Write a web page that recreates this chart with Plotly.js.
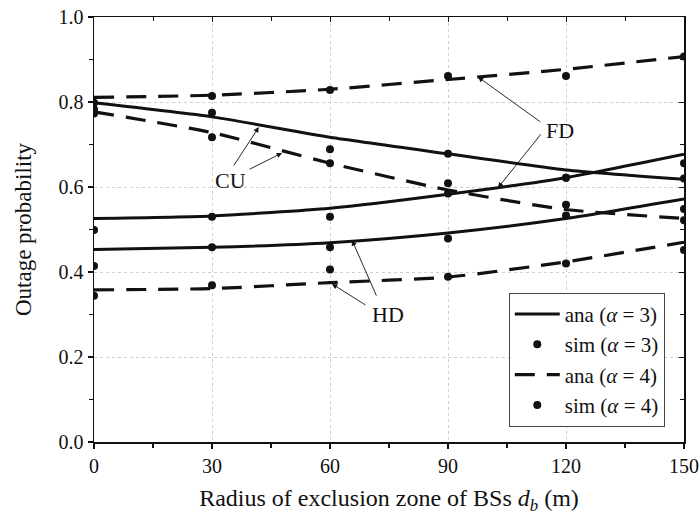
<!DOCTYPE html>
<html>
<head>
<meta charset="utf-8">
<script src="https://cdn.plot.ly/plotly-3.0.1.min.js"></script>
<style>html,body{margin:0;padding:0;background:#fff;}#chart{width:700px;height:517px;}</style>
</head>
<body>
<div id="chart"></div>
<script>
// Radius of exclusion zone (m)
const radius = [0, 30, 60, 90, 120, 150];
const xTicks = [0, 30, 60, 90, 120, 150];

// Analytic curves, alpha = 3
const cuAna3 = [0.798, 0.765, 0.717, 0.678, 0.640, 0.618];
const fdAna3 = [0.526, 0.532, 0.550, 0.583, 0.622, 0.677];
const hdAna3 = [0.453, 0.458, 0.469, 0.492, 0.526, 0.572];
// Analytic curves, alpha = 4
const fdAna4 = [0.811, 0.816, 0.830, 0.853, 0.877, 0.907];
const cuAna4 = [0.777, 0.728, 0.656, 0.593, 0.547, 0.526];
const hdAna4 = [0.358, 0.361, 0.375, 0.388, 0.424, 0.470];

// Simulation points, alpha = 3
const cuSim3 = [0.783, 0.775, 0.689, 0.678, 0.622, 0.620];
const fdSim3 = [0.499, 0.530, 0.530, 0.585, 0.622, 0.656];
const hdSim3 = [0.414, 0.458, 0.458, 0.479, 0.533, 0.548];
// Simulation points, alpha = 4
const fdSim4 = [0.798, 0.814, 0.828, 0.861, 0.861, 0.907];
const cuSim4 = [0.773, 0.717, 0.656, 0.609, 0.558, 0.522];
const hdSim4 = [0.344, 0.369, 0.406, 0.389, 0.420, 0.452];

function joinSeries(list, withGaps) {
  const x = [], y = [];
  list.forEach((s, i) => {
    if (i > 0 && withGaps) { x.push(null); y.push(null); }
    radius.forEach((r, j) => { x.push(r); y.push(s[j]); });
  });
  return {x, y};
}

const FONT = '"Liberation Serif", "Times New Roman", serif';
const a3 = joinSeries([cuAna3, fdAna3, hdAna3], true);
const s3 = joinSeries([cuSim3, fdSim3, hdSim3], false);
const a4 = joinSeries([fdAna4, cuAna4, hdAna4], true);
const s4 = joinSeries([fdSim4, cuSim4, hdSim4], false);

const traces = [
  {x: a3.x, y: a3.y, mode: 'lines', name: 'ana (<i>α</i> = 3)',
   line: {color: '#111', width: 3, shape: 'spline', smoothing: 0.6}, connectgaps: false},
  {x: s3.x, y: s3.y, mode: 'markers', name: 'sim (<i>α</i> = 3)',
   marker: {color: '#111', size: 8, symbol: 'circle'}},
  {x: a4.x, y: a4.y, mode: 'lines', name: 'ana (<i>α</i> = 4)',
   line: {color: '#111', width: 3.2, dash: '20px,12px', shape: 'spline', smoothing: 0.6}, connectgaps: false},
  {x: s4.x, y: s4.y, mode: 'markers', name: 'sim (<i>α</i> = 4)',
   marker: {color: '#111', size: 8, symbol: 'circle'}},
  // invisible trace that carries the top/right inward-tick axes
  {x: [0], y: [0], xaxis: 'x2', yaxis: 'y2', mode: 'markers', marker: {opacity: 0}, showlegend: false, hoverinfo: 'skip'}
];

function arrow(x, y, ax, ay) {
  return {x, y, ax, ay, xref: 'x', yref: 'y', axref: 'pixel', ayref: 'pixel', text: '',
    showarrow: true, arrowhead: 2, arrowsize: 1.2, arrowwidth: 0.9, arrowcolor: '#111'};
}
function label(x, y, t) {
  return {x, y, xref: 'x', yref: 'y', text: t, showarrow: false,
    font: {family: FONT, size: 22, color: '#111'}};
}

const layout = {
  width: 700, height: 517,
  margin: {l: 94, r: 16, t: 17, b: 75},
  paper_bgcolor: '#fff', plot_bgcolor: '#fff',
  font: {family: FONT, size: 20, color: '#111'},
  showlegend: true,
  legend: {x: 0.703, y: 0.351, xanchor: 'left', yanchor: 'top', itemwidth: 45,
    bgcolor: '#fff', bordercolor: '#444', borderwidth: 1,
    font: {family: FONT, size: 21, color: '#111'}, tracegroupgap: 0},
  xaxis: {range: [0, 150], tickvals: xTicks, ticks: 'outside', ticklen: 5, tickwidth: 1.2,
    tickcolor: '#111', showline: true, linecolor: '#111', linewidth: 1.5,
    showgrid: true, gridcolor: '#cfcfcf', griddash: 'dot', gridwidth: 1, zeroline: false,
    minor: {dtick: 15, ticks: 'outside', ticklen: 4, tickcolor: '#111', showgrid: false},
    title: {text: 'Radius of exclusion zone of BSs <i>d</i><sub><i>b</i></sub> (m)', font: {family: FONT, size: 24}, standoff: 13},
    tickfont: {family: FONT, size: 20}},
  yaxis: {range: [0, 1.0], dtick: 0.2, tickformat: '.1f', ticks: 'outside', ticklen: 5, tickwidth: 1.2,
    tickcolor: '#111', showline: true, linecolor: '#111', linewidth: 1.5,
    showgrid: true, gridcolor: '#cfcfcf', griddash: 'dot', gridwidth: 1, zeroline: false,
    minor: {dtick: 0.1, ticks: 'outside', ticklen: 4, tickcolor: '#111', showgrid: false},
    title: {text: 'Outage probability', font: {family: FONT, size: 23}, standoff: 20},
    tickfont: {family: FONT, size: 20}},
  xaxis2: {overlaying: 'x', side: 'top', range: [0, 150], tickvals: xTicks, ticks: 'inside', ticklen: 5,
    tickcolor: '#111', showticklabels: false, showline: true, linecolor: '#111', linewidth: 1.5,
    showgrid: false, zeroline: false,
    minor: {dtick: 15, ticks: 'inside', ticklen: 4, tickcolor: '#111', showgrid: false}},
  yaxis2: {overlaying: 'y', side: 'right', range: [0, 1.0], dtick: 0.2, ticks: 'inside', ticklen: 5,
    tickcolor: '#111', showticklabels: false, showline: true, linecolor: '#111', linewidth: 1.5,
    showgrid: false, zeroline: false,
    minor: {dtick: 0.1, ticks: 'inside', ticklen: 4, tickcolor: '#111', showgrid: false}},
  annotations: [
    label(118.5, 0.734, 'FD'),
    arrow(97.6, 0.859, 64, 46),
    arrow(102.7, 0.598, 44, -55),
    label(34.8, 0.616, 'CU'),
    arrow(41.9, 0.741, -26, 40),
    arrow(47.8, 0.680, -34, 17),
    label(74.7, 0.299, 'HD'),
    arrow(65.6, 0.475, 25, 57),
    arrow(60.5, 0.372, 35, 22)
  ]
};

Plotly.newPlot('chart', traces, layout, {displayModeBar: false, staticPlot: true});
</script>
</body>
</html>
